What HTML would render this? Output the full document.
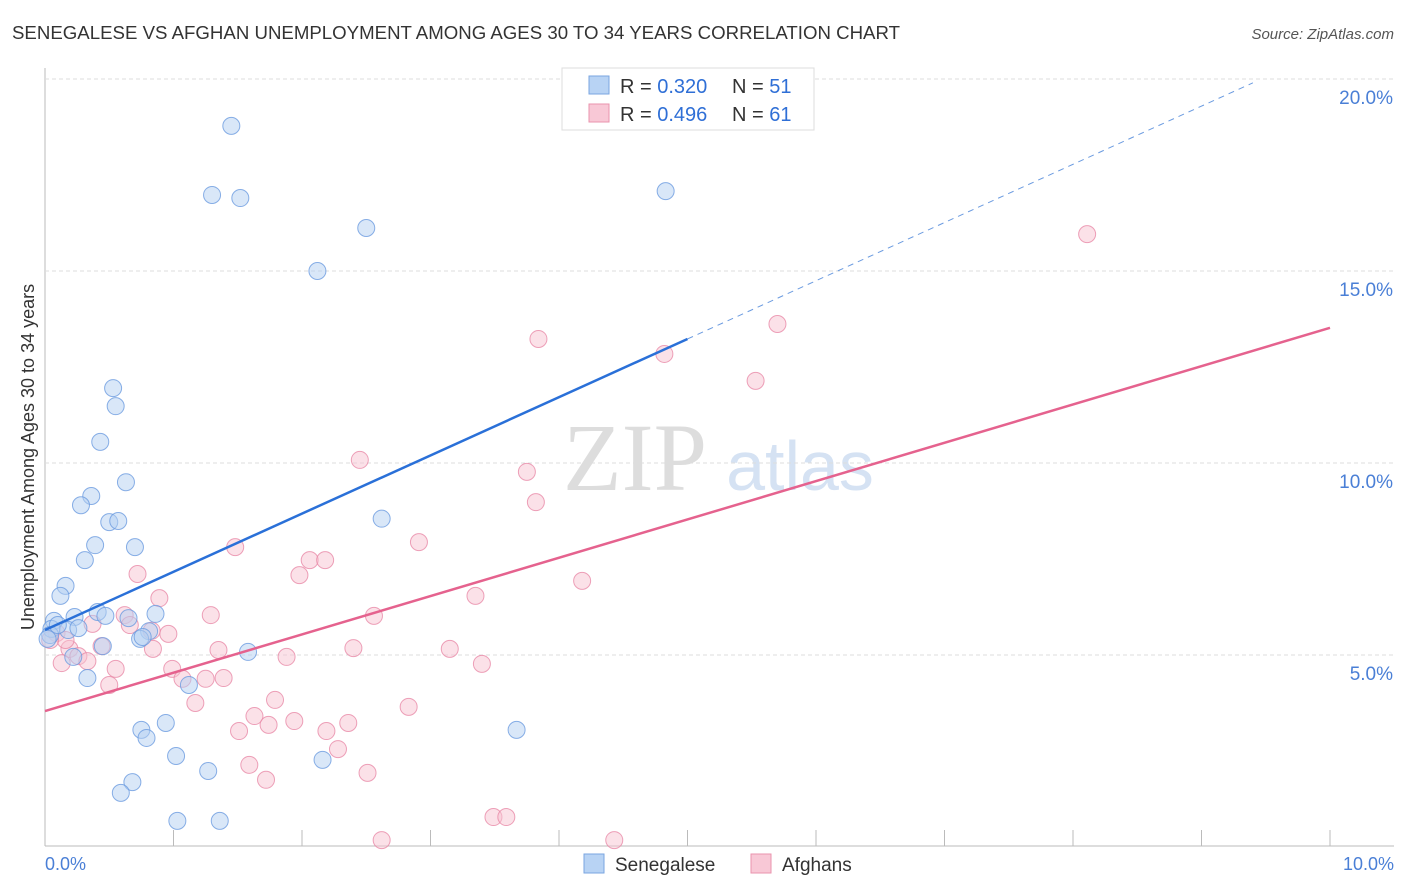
<!DOCTYPE html>
<html><head><meta charset="utf-8"><style>
body{margin:0;background:#fff;font-family:"Liberation Sans",sans-serif;}
#wrap{position:relative;width:1406px;height:892px;overflow:hidden;}
</style></head><body>
<div id="wrap">
<svg id="svg" width="1406" height="892" xmlns="http://www.w3.org/2000/svg">
<text x="12" y="39" font-size="18" fill="#333" textLength="888" lengthAdjust="spacingAndGlyphs">SENEGALESE VS AFGHAN UNEMPLOYMENT AMONG AGES 30 TO 34 YEARS CORRELATION CHART</text>
<text x="1394" y="39" font-size="15" fill="#555" font-style="italic" text-anchor="end">Source: ZipAtlas.com</text>
<text x="635" y="490" font-size="96" fill="#ddd" font-family="Liberation Serif,serif" text-anchor="middle">ZIP</text>
<text x="800" y="490" font-size="70" fill="#d5e2f3" text-anchor="middle">atlas</text>
<g id="grid"></g>
<g id="marks"></g>
<text transform="translate(34,457) rotate(-90)" font-size="18" fill="#333" text-anchor="middle">Unemployment Among Ages 30 to 34 years</text>
<text x="45" y="870" font-size="18" fill="#4a7fd6">0.0%</text>
<text x="1394" y="870" font-size="18" fill="#4a7fd6" text-anchor="end">10.0%</text>
<g>
<rect x="562" y="68" width="252" height="62" fill="#fff" stroke="#ddd"/>
<rect x="589" y="76" width="20" height="18" fill="#b8d3f4" stroke="#7aa6e0"/>
<rect x="589" y="104" width="20" height="18" fill="#f8c8d6" stroke="#ea93ad"/>
<text x="620" y="93" font-size="20" fill="#333">R = <tspan fill="#2f6fd6">0.320</tspan></text>
<text x="732" y="93" font-size="20" fill="#333">N = <tspan fill="#2f6fd6">51</tspan></text>
<text x="620" y="121" font-size="20" fill="#333">R = <tspan fill="#2f6fd6">0.496</tspan></text>
<text x="732" y="121" font-size="20" fill="#333">N = <tspan fill="#2f6fd6">61</tspan></text>
</g>
<g>
<rect x="584" y="854" width="20" height="19" fill="#b8d3f4" stroke="#7aa6e0"/>
<text x="615" y="871" font-size="19" fill="#333">Senegalese</text>
<rect x="751" y="854" width="20" height="19" fill="#f8c8d6" stroke="#ea93ad"/>
<text x="782" y="871" font-size="19" fill="#333">Afghans</text>
</g>
</svg>
</div>
<script>
const yTicks=[5,10,15,20];
const yTickLabels=["5.0%","10.0%","15.0%","20.0%"];
const blueX=[1.45,1.30,1.52,2.50,4.83,2.12,0.53,0.55,0.43,0.63,0.36,0.28,0.50,0.57,2.62,0.39,0.70,0.31,0.16,0.12,0.41,0.86,0.65,0.47,0.23,0.07,0.05,0.18,0.26,0.81,0.74,0.76,0.45,1.58,0.22,0.33,1.12,0.94,0.75,0.79,3.67,1.02,2.16,1.27,0.68,0.59,1.03,1.36,0.04,0.10,0.02];
const blueY=[18.78,16.98,16.90,16.12,17.08,15.00,11.95,11.48,10.55,9.50,9.14,8.90,8.46,8.49,8.55,7.86,7.81,7.47,6.80,6.54,6.12,6.07,5.96,6.02,5.99,5.89,5.68,5.65,5.70,5.62,5.42,5.47,5.23,5.08,4.95,4.40,4.22,3.23,3.05,2.84,3.05,2.37,2.27,1.98,1.69,1.41,0.68,0.68,5.52,5.78,5.42];
const pinkX=[8.11,5.70,3.84,4.82,5.53,2.45,3.75,3.82,2.91,1.48,2.06,2.18,0.72,1.98,4.18,3.35,0.89,1.29,2.56,0.62,0.37,0.66,0.96,0.83,2.40,3.15,1.35,0.84,0.44,0.19,0.26,0.33,0.13,1.88,3.40,0.55,0.99,1.07,1.25,1.39,0.50,1.17,1.79,2.83,1.63,1.94,2.36,1.51,1.74,2.19,2.28,1.59,2.51,1.72,3.49,3.59,2.62,4.43,0.09,0.16,0.04];
const pinkY=[15.96,13.62,13.23,12.84,12.14,10.08,9.77,8.98,7.94,7.81,7.47,7.47,7.11,7.08,6.93,6.54,6.48,6.04,6.02,6.04,5.81,5.78,5.55,5.63,5.18,5.16,5.13,5.16,5.23,5.16,4.97,4.84,4.79,4.95,4.77,4.64,4.64,4.38,4.38,4.40,4.22,3.75,3.83,3.65,3.41,3.28,3.23,3.02,3.18,3.02,2.55,2.14,1.93,1.75,0.78,0.78,0.18,0.18,5.57,5.39,5.39];
const blueLine=[0,5.65,5,13.23];
const pinkLine=[0,3.54,10,13.52];
const X=v=>45+v*128.5, Y=v=>847-v*38.4;
const ns="http://www.w3.org/2000/svg";
const grid=document.getElementById('grid'), marks=document.getElementById('marks');
function mk(t,a,p){const e=document.createElementNS(ns,t);for(const k in a)e.setAttribute(k,a[k]);p.appendChild(e);return e;}
let ax=mk('line',{x1:45,y1:68,x2:45,y2:846,stroke:'#bbb'},grid);


let bx=mk('line',{x1:45,y1:846,x2:1394,y2:846,stroke:'#bbb'},grid);


for(let i=1;i<=10;i++){let t=mk('line',{x1:X(i),x2:X(i),y1:830,y2:846,stroke:'#bbb'},grid);

}
yTicks.forEach((v,i)=>{let g=mk('line',{x1:45,x2:1394,y1:Y(v),y2:Y(v),stroke:'#ddd','stroke-dasharray':'4,3'},grid);


let t=mk('text',{x:1393,y:Y(v)+25,'font-size':19,fill:'#4a7fd6','text-anchor':'end'},grid);t.textContent=yTickLabels[i];

});
function dots(xs,ys,f,s,n){xs.forEach((x,i)=>{let c=mk('circle',{cx:X(x),cy:Y(ys[i]),r:8.5,fill:f,'fill-opacity':0.5,stroke:s,'stroke-width':1,'stroke-opacity':0.8},marks);

});}
dots(pinkX,pinkY,'#f8c3d2','#e88aa8','afghan-point');
dots(blueX,blueY,'#b3cff2','#6b9be0','senegalese-point');
const bs=(blueLine[3]-blueLine[1])/(blueLine[2]-blueLine[0]);
let l1=mk('line',{x1:X(blueLine[0]),y1:Y(blueLine[1]),x2:X(blueLine[2]),y2:Y(blueLine[3]),stroke:'#2a70d8','stroke-width':2.5},marks);


let xe=9.4;
let l2=mk('line',{x1:X(blueLine[2]),y1:Y(blueLine[3]),x2:X(xe),y2:Y(blueLine[1]+bs*xe),stroke:'#6b9be0','stroke-width':1,'stroke-dasharray':'6,5'},marks);


let l3=mk('line',{x1:X(pinkLine[0]),y1:Y(pinkLine[1]),x2:X(pinkLine[2]),y2:Y(pinkLine[3]),stroke:'#e5628e','stroke-width':2.5},marks);


</script>
</body></html>
